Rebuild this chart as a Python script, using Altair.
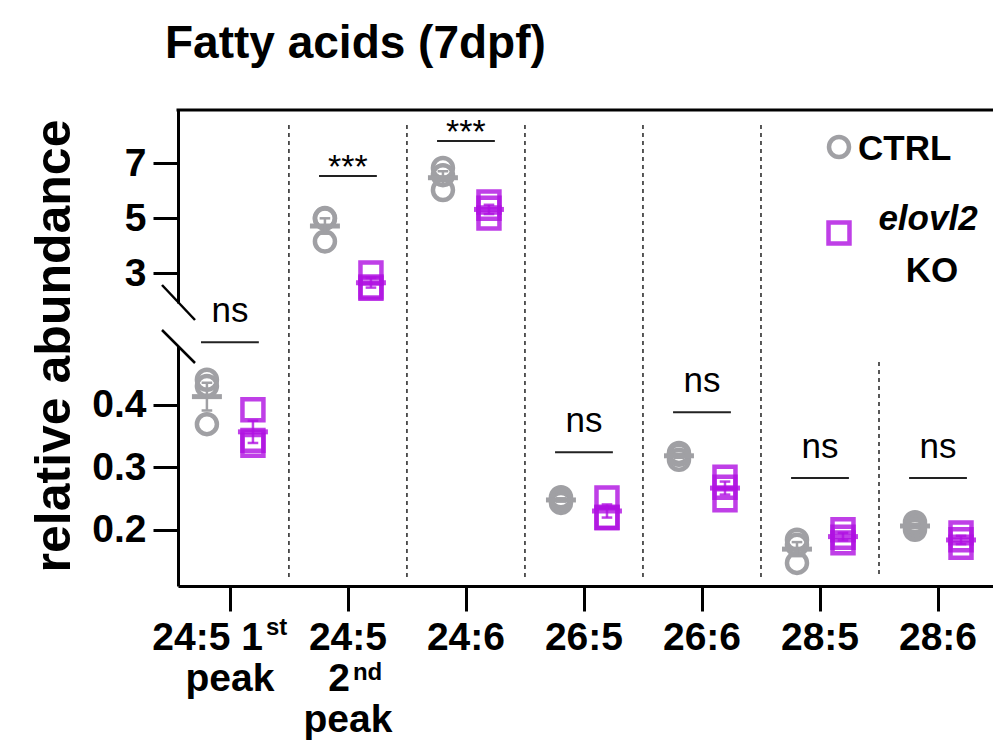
import altair as alt
import pandas as pd

# ---------------- data ----------------
categories = ["24:5 1st peak", "24:5 2nd peak", "24:6", "26:5", "26:6", "28:5", "28:6"]
groups = ["CTRL", "KO"]
ctrl_values = [
    [0.440, 0.430, 0.369],
    [4.98, 5.00, 4.15],
    [6.82, 6.56, 6.02],
    [0.243, 0.252, 0.248],
    [0.312, 0.323, 0.320],
    [0.184, 0.176, 0.147],
    [0.206, 0.212, 0.200],
]
ko_values = [
    [0.392, 0.343, 0.335],
    [3.00, 2.45, 2.49],
    [5.58, 5.36, 5.00],
    [0.251, 0.219, 0.220],
    [0.284, 0.248, 0.268],
    [0.200, 0.179, 0.188],
    [0.195, 0.184, 0.172],
]
sig_labels = ["ns", "***", "***", "ns", "ns", "ns", "ns"]
sig_line_y = [0.500, 6.53, 7.80, 0.324, 0.388, 0.283, 0.283]
upper_ticks = [3, 5, 7]
lower_ticks = [0.2, 0.3, 0.4]
upper_domain = [1.91, 8.93]
lower_domain = [0.11, 0.494]
# x tick label lines: (main text, superscript)
x_label_lines = [
    [("24:5 1", "st"), ("peak", "")],
    [("24:5", ""), ("2", "nd"), ("peak", "")],
    [("24:6", "")],
    [("26:5", "")],
    [("26:6", "")],
    [("28:5", "")],
    [("28:6", "")],
]
legend_labels = ["CTRL", "elovl2", "KO"]
title_text = "Fatty acids (7dpf)"
y_title = "relative abundance"

# ---------------- style ----------------
GRAY = "#A0A0A4"
PURPLE = "#B010E2"
FONT = "Liberation Sans, Arial, Helvetica, sans-serif"
W, H = 815, 476
OFF = 0.195

rows = []
for i, c in enumerate(categories):
    for v in ctrl_values[i]:
        rows.append({"cat": c, "idx": i, "group": "CTRL", "value": v})
    for v in ko_values[i]:
        rows.append({"cat": c, "idx": i, "group": "KO", "value": v})
df = pd.DataFrame(rows)
sig_df = pd.DataFrame({"idx": list(range(len(categories))), "label": sig_labels, "y": sig_line_y})

lab_rows = []
for i, lines in enumerate(x_label_lines):
    for j, (m, s) in enumerate(lines):
        lab_rows.append({"idx": i, "line": j + 1, "main": m, "sup": s})
lab_df = pd.DataFrame(lab_rows)
sep_df = pd.DataFrame({"b": [i + 0.5 for i in range(len(categories) - 1)]})
dummy = pd.DataFrame({"k": [0]})

x_scale = alt.Scale(domain=[-0.44, 6.466], nice=False, zero=False)
color = alt.Color("group:N", scale=alt.Scale(domain=groups, range=[GRAY, PURPLE]), legend=None)
opac = alt.Opacity("group:N", scale=alt.Scale(domain=groups, range=[1.0, 0.8]), legend=None)
shape = alt.Shape("group:N", scale=alt.Scale(domain=groups, range=["circle", "square"]), legend=None)
size = alt.Size("group:N", scale=alt.Scale(domain=groups, range=[400, 440]), legend=None)
pos_expr = f"datum.idx + (datum.group == 'CTRL' ? {-OFF} : {OFF})"

x_axis = alt.Axis(orient="bottom", values=list(range(len(categories))), labels=False, title=None,
                  grid=False, domainWidth=3, domainColor="black", tickWidth=3, tickColor="black",
                  tickSize=25)


def xenc(field, axis=None):
    return alt.X(field, scale=x_scale, axis=axis)


def y_axis(values, fmt):
    return alt.Axis(orient="left", values=values, format=fmt, title=None, grid=False,
                    domainWidth=3, domainColor="black", tickWidth=3, tickColor="black",
                    tickSize=25, labelPadding=7, labelFont=FONT, labelFontSize=39,
                    labelFontWeight="bold", labelColor="black")


def segment(filt, sig_filt, y_scale, axis, xaxis=None):
    def ynone(f):
        return alt.Y(f, scale=y_scale, axis=None)

    pts = alt.Chart(df).transform_filter(filt).transform_calculate(xpos=pos_expr).mark_point(
        filled=False, strokeWidth=4.5).encode(
        x=xenc("xpos:Q", xaxis), y=alt.Y("value:Q", scale=y_scale, axis=axis),
        color=color, opacity=opac, shape=shape, size=size)
    stats = alt.Chart(df).transform_filter(filt).transform_aggregate(
        mean="mean(value)", sem="stderr(value)", groupby=["idx", "group"]
    ).transform_calculate(xpos=pos_expr).transform_calculate(
        xl="datum.xpos - 0.127", xr="datum.xpos + 0.127",
        cl="datum.xpos - 0.045", cr="datum.xpos + 0.045",
        lo="datum.mean - datum.sem", hi="datum.mean + datum.sem")
    mean_bar = stats.mark_rule(strokeWidth=5).encode(
        x=xenc("xl:Q"), x2="xr:Q", y=ynone("mean:Q"), color=color, opacity=opac)
    whisk = stats.mark_rule(strokeWidth=2.5).encode(
        x=xenc("xpos:Q"), y=ynone("lo:Q"), y2="hi:Q", color=color, opacity=opac)
    cap_lo = stats.mark_rule(strokeWidth=2.5).encode(
        x=xenc("cl:Q"), x2="cr:Q", y=ynone("lo:Q"), color=color, opacity=opac)
    cap_hi = stats.mark_rule(strokeWidth=2.5).encode(
        x=xenc("cl:Q"), x2="cr:Q", y=ynone("hi:Q"), color=color, opacity=opac)
    sig = alt.Chart(sig_df).transform_filter(sig_filt).transform_calculate(
        xl="datum.idx - 0.245", xr="datum.idx + 0.245")
    sig_line = sig.mark_rule(strokeWidth=2, color="#222222").encode(
        x=xenc("xl:Q"), x2="xr:Q", y=ynone("y:Q"))
    ns_text = sig.transform_filter("datum.label == 'ns'").mark_text(
        font=FONT, fontSize=35, baseline="alphabetic", dy=-20, color="black").encode(
        x=xenc("idx:Q"), y=ynone("y:Q"), text="label:N")
    star_text = sig.transform_filter("datum.label != 'ns'").mark_text(
        font=FONT, fontSize=34, baseline="alphabetic", dy=2, color="black").encode(
        x=xenc("idx:Q"), y=ynone("y:Q"), text="label:N")
    return [pts, mean_bar, whisk, cap_lo, cap_hi, sig_line, ns_text, star_text]


upper = segment("datum.value >= 1", "datum.y >= 1",
                alt.Scale(domain=upper_domain, range=[193, 0], nice=False, zero=False),
                y_axis(upper_ticks, "d"))
lower = segment("datum.value < 1", "datum.y < 1",
                alt.Scale(domain=lower_domain, range=[476, 236], nice=False, zero=False),
                y_axis(lower_ticks, ".1f"), x_axis)

# x tick labels (text marks, to allow superscripts)
line_y = alt.Y("line:Q", scale=alt.Scale(domain=[1, 3], range=[540, 622], nice=False, zero=False), axis=None)
lab_base = alt.Chart(lab_df)
plain_lab = lab_base.transform_filter("datum.sup == ''").mark_text(
    font=FONT, fontSize=39, fontWeight="bold", baseline="alphabetic", align="center", color="black").encode(
    x=xenc("idx:Q"), y=line_y, text="main:N")
sup_layers = []
sup_cfg = {0: (33, -15), 1: (2, -11)}
for i, (dxv, dyv) in sup_cfg.items():
    sel = lab_base.transform_filter(f"datum.sup != '' && datum.idx == {i}")
    sup_layers.append(sel.mark_text(font=FONT, fontSize=39, fontWeight="bold", baseline="alphabetic",
                                    align="right", dx=dxv, color="black").encode(
        x=xenc("idx:Q"), y=line_y, text="main:N"))
    sup_layers.append(sel.mark_text(font=FONT, fontSize=24, fontWeight="bold", baseline="alphabetic",
                                    align="left", dx=dxv + 3, dy=dyv, color="black").encode(
        x=xenc("idx:Q"), y=line_y, text="sup:N"))

# separators
sep_full = alt.Chart(sep_df).transform_filter("datum.b < 5").mark_rule(
    strokeWidth=1.3, strokeDash=[4, 4], color="black").encode(
    x=xenc("b:Q"), y=alt.value(15), y2=alt.value(467))
sep_short = alt.Chart(sep_df).transform_filter("datum.b > 5").mark_rule(
    strokeWidth=1.3, strokeDash=[4, 4], color="black").encode(
    x=xenc("b:Q"), y=alt.value(252), y2=alt.value(467))

d = alt.Chart(dummy)
frame_top = d.mark_rule(strokeWidth=3, color="black", strokeCap="square").encode(
    x=alt.value(0), x2=alt.value(W), y=alt.value(0))
slash1 = d.mark_rule(strokeWidth=2.5, color="black").encode(
    x=alt.value(-16), y=alt.value(175), x2=alt.value(17), y2=alt.value(210))
slash2 = d.mark_rule(strokeWidth=2.5, color="black").encode(
    x=alt.value(-16), y=alt.value(220), x2=alt.value(17), y2=alt.value(253))
title = d.mark_text(font=FONT, fontSize=46, fontWeight="bold", align="left", baseline="alphabetic",
                    color="black").encode(x=alt.value(-13), y=alt.value(-52), text=alt.value(title_text))
ytitle = d.mark_text(font=FONT, fontSize=50, fontWeight="bold", align="center", baseline="alphabetic",
                     angle=270, color="black").encode(x=alt.value(-108), y=alt.value(236),
                                                       text=alt.value(y_title))
leg_c = d.mark_point(shape="circle", size=400, filled=False, strokeWidth=4.5, color=GRAY, opacity=1).encode(
    x=alt.value(661), y=alt.value(37))
leg_s = d.mark_point(shape="square", size=440, filled=False, strokeWidth=4.5, color=PURPLE, opacity=0.8).encode(
    x=alt.value(661), y=alt.value(123))
leg_t1 = d.mark_text(font=FONT, fontSize=35, fontWeight="bold", align="left", baseline="alphabetic",
                     color="black").encode(x=alt.value(680), y=alt.value(50), text=alt.value(legend_labels[0]))
leg_t2 = d.mark_text(font=FONT, fontSize=35, fontWeight="bold", fontStyle="italic", align="center",
                     baseline="alphabetic", color="black").encode(
    x=alt.value(750), y=alt.value(120), text=alt.value(legend_labels[1]))
leg_t3 = d.mark_text(font=FONT, fontSize=35, fontWeight="bold", align="center", baseline="alphabetic",
                     color="black").encode(x=alt.value(754), y=alt.value(172), text=alt.value(legend_labels[2]))

chart = alt.layer(
    *lower, *upper, sep_full, sep_short, frame_top, slash1, slash2, plain_lab, *sup_layers,
    title, ytitle, leg_c, leg_s, leg_t1, leg_t2, leg_t3
).resolve_scale(x="independent", y="independent").properties(
    width=W, height=H,
    padding={"left": 178, "top": 110, "right": 0, "bottom": 156},
    autosize=alt.AutoSizeParams(type="none"),
).configure_view(stroke=None)

chart.save("out.html", embed_options={"renderer": "svg", "actions": False})
